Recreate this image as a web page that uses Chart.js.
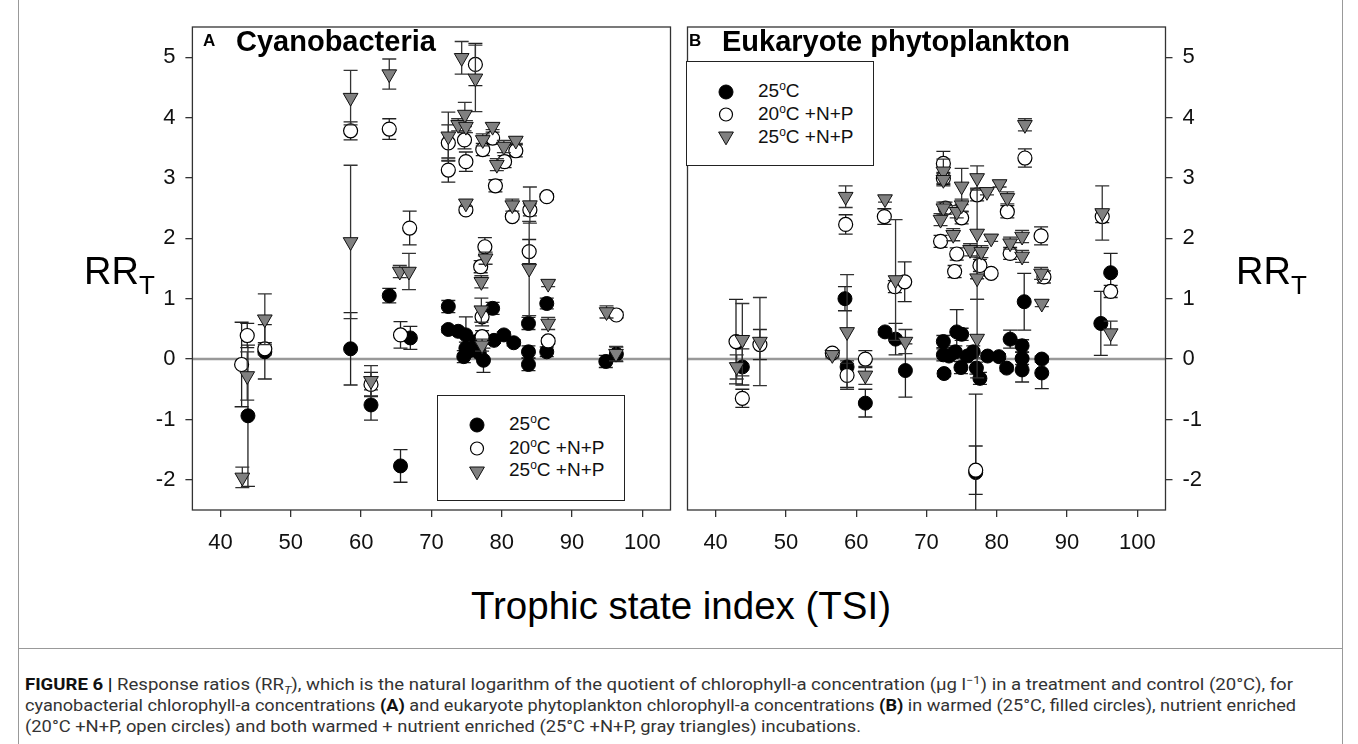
<!DOCTYPE html>
<html>
<head>
<meta charset="utf-8">
<script src="https://cdn.jsdelivr.net/npm/chart.js@4.4.1/dist/chart.umd.min.js"></script>
<style>
  body { margin: 0; width: 1358px; height: 744px; background: #fff; overflow: hidden; position: relative; font-family: 'Liberation Sans', Arial, sans-serif; }
  canvas { position: absolute; }
  .abs { position: absolute; white-space: nowrap; }
  .legend { position: absolute; background: #fff; border: 1.3px solid #222; box-sizing: border-box; }
  .legend .row { position: absolute; font-size: 19px; color: #111; line-height: 20px; }
  .legend .row sup { font-size: 12px; line-height: 0; vertical-align: 7px; }
  .legend svg { position: absolute; overflow: visible; }
  .cap { position: absolute; left: 25px; font-family: 'Liberation Sans Narrow', 'Roboto', 'Liberation Sans', sans-serif; font-size: 16px; line-height: 18px; color: #333; white-space: nowrap; transform-origin: 0 0; }
  .cap b { color: #111; }
  .cap sub, .cap sup { line-height: 0; font-size: 11px; }
</style>
</head>
<body>
<div class="abs" style="left:18px;top:0;width:1325px;height:744px;border-left:1px solid #999;border-right:1px solid #999;box-sizing:border-box;"></div>
<div class="abs" style="left:18px;top:648px;width:1325px;border-top:1px solid #999;"></div>

<canvas id="chartA" width="580" height="560" style="left:100px;top:17px;"></canvas>
<canvas id="chartB" width="580" height="560" style="left:678px;top:17px;"></canvas>

<div class="abs" style="left:203px;top:31px;font-size:17px;font-weight:bold;">A</div>
<div class="abs" style="left:236px;top:25px;font-size:29px;font-weight:bold;">Cyanobacteria</div>
<div class="abs" style="left:689px;top:31px;font-size:17px;font-weight:bold;">B</div>
<div class="abs" style="left:722px;top:25px;font-size:29px;font-weight:bold;">Eukaryote phytoplankton</div>

<div class="abs" style="left:84px;top:250px;font-size:38px;">RR<sub style="font-size:26px;vertical-align:-10px;">T</sub></div>
<div class="abs" style="left:1236px;top:250px;font-size:38px;">RR<sub style="font-size:26px;vertical-align:-10px;">T</sub></div>
<div class="abs" style="left:0;width:1362px;text-align:center;top:584px;font-size:38.5px;">Trophic state index (TSI)</div>

<div class="legend" style="left:437px;top:395px;width:188px;height:106px;">
  <svg style="left:0;top:0" width="1" height="1">
    <circle cx="39" cy="29" r="7" fill="#000" stroke="#000"/>
    <circle cx="39" cy="52.5" r="6.5" fill="#fff" stroke="#000" stroke-width="1.2"/>
    <polygon points="31.6,71 46.4,71 39,83.8" fill="#808080" stroke="#111"/>
  </svg>
  <div class="row" style="left:71px;top:18px;">25<sup>o</sup>C</div>
  <div class="row" style="left:71px;top:41.5px;">20<sup>o</sup>C +N+P</div>
  <div class="row" style="left:71px;top:64px;">25<sup>o</sup>C +N+P</div>
</div>
<div class="legend" style="left:686px;top:61px;width:188px;height:105px;">
  <svg style="left:0;top:0" width="1" height="1">
    <circle cx="39" cy="30" r="7" fill="#000" stroke="#000"/>
    <circle cx="39" cy="52.5" r="6.5" fill="#fff" stroke="#000" stroke-width="1.2"/>
    <polygon points="31.6,70 46.4,70 39,82.8" fill="#808080" stroke="#111"/>
  </svg>
  <div class="row" style="left:71px;top:19px;">25<sup>o</sup>C</div>
  <div class="row" style="left:71px;top:41.5px;">20<sup>o</sup>C +N+P</div>
  <div class="row" style="left:71px;top:64.5px;">25<sup>o</sup>C +N+P</div>
</div>

<div class="cap" data-w="1268" style="top:676px;"><b>FIGURE 6 |</b> Response ratios (RR<sub><i>T</i></sub>), which is the natural logarithm of the quotient of chlorophyll-a concentration (µg l<sup>−1</sup>) in a treatment and control (20°C), for</div>
<div class="cap" data-w="1271" style="top:697px;">cyanobacterial chlorophyll-a concentrations <b>(A)</b> and eukaryote phytoplankton chlorophyll-a concentrations <b>(B)</b> in warmed (25°C, filled circles), nutrient enriched</div>
<div class="cap" data-w="836" style="top:718px;">(20°C +N+P, open circles) and both warmed + nutrient enriched (25°C +N+P, gray triangles) incubations.</div>

<script>
// axis ticks
const xTicks = [40, 50, 60, 70, 80, 90, 100];
const yTicks = [-2, -1, 0, 1, 2, 3, 4, 5];

// Panel A - cyanobacteria
const cyanoWarmX = [43.9, 46.3, 58.5, 61.4, 64.0, 65.6, 67.0, 72.4, 72.4, 73.8, 74.9, 74.9, 74.6, 76.4, 77.4, 78.7, 78.9, 80.3, 81.7, 83.8, 83.8, 83.8, 86.4, 86.4, 94.8, 96.3, 75.5, 76.8];
const cyanoWarmY = [-0.94, 0.12, 0.17, -0.76, 1.05, -1.77, 0.35, 0.87, 0.49, 0.46, 0.40, 0.18, 0.04, 0.29, -0.02, 0.84, 0.31, 0.40, 0.27, 0.59, 0.12, -0.09, 0.92, 0.12, -0.04, 0.08, 0.14, 0.10];
const cyanoWarmErr = [1.17, 0.45, 0.6, 0.25, 0.12, 0.27, 0.19, 0.1, 0.05, 0.05, 0.3, 0.1, 0.1, 0.1, 0.2, 0.1, 0.05, 0.05, 0.05, 0.1, 0.1, 0.1, 0.09, 0.08, 0.1, 0.12, 0.05, 0.05];

const cyanoNutX = [43.0, 43.8, 46.3, 58.5, 61.4, 64.0, 65.6, 66.9, 72.4, 72.4, 74.7, 74.9, 74.9, 76.25, 77.3, 78.7, 80.4, 82.0, 79.1, 81.5, 84.0, 86.4, 77.6, 77.0, 83.9, 77.2, 77.2, 86.6, 96.3];
const cyanoNutY = [-0.09, 0.39, 0.17, 3.78, -0.42, 3.81, 0.40, 2.17, 3.58, 3.13, 3.63, 3.27, 2.47, 4.88, 3.47, 3.66, 3.27, 3.45, 2.87, 2.36, 2.47, 2.69, 1.86, 1.53, 1.78, 0.70, 0.37, 0.30, 0.73];
const cyanoNutErr = [0.7, 0.2, 0.1, 0.15, 0.2, 0.17, 0.22, 0.28, 0.3, 0.2, 0.15, 0.16, 0.05, 0.35, 0.1, 0.1, 0.1, 0.1, 0.1, 0.05, 0.1, 0.05, 0.15, 0.1, 0.2, 0.15, 0.1, 0.05, 0.05];

const cyanoBothX = [43.1, 43.8, 46.3, 58.5, 58.5, 61.4, 64.0, 65.5, 66.8, 72.4, 73.8, 74.3, 74.75, 74.9, 76.25, 77.3, 78.7, 80.3, 82.0, 79.3, 74.9, 81.5, 84.0, 77.7, 83.9, 77.1, 77.1, 77.2, 86.6, 86.6, 94.9, 96.25];
const cyanoBothY = [-1.96, -0.28, 0.66, 4.33, 1.94, -0.36, 4.72, 1.45, 1.45, 3.69, 3.88, 4.99, 4.05, 3.85, 4.65, 3.63, 3.85, 3.52, 3.62, 3.22, 2.58, 2.55, 2.55, 1.67, 1.50, 1.28, 0.81, 0.23, 1.25, 0.59, 0.78, 0.09];
const cyanoBothErr = [0.17, 0.4, 0.42, 0.45, 1.27, 0.25, 0.25, 0.1, 0.3, 0.4, 0.1, 0.27, 0.2, 0.1, 0.55, 0.1, 0.05, 0.1, 0.05, 0.1, 0.05, 0.1, 0.3, 0.1, 0.78, 0.1, 0.2, 0.1, 0.05, 0.1, 0.1, 0.12];

// Panel B - eukaryote phytoplankton
const eukWarmX = [43.1, 43.8, 58.4, 58.7, 61.3, 64.1, 65.6, 67.0, 72.4, 72.4, 72.5, 74.1, 74.3, 75.0, 74.9, 76.65, 77.1, 77.6, 78.7, 80.3, 81.4, 81.9, 83.6, 83.6, 83.6, 83.9, 86.4, 86.4, 94.8, 96.2, 77.0, 73.2, 75.8];
const eukWarmY = [0.28, -0.13, 1.0, -0.13, -0.73, 0.45, 0.33, -0.19, 0.29, 0.07, -0.24, 0.12, 0.45, 0.41, -0.14, 0.12, -0.15, -0.32, 0.05, 0.04, -0.15, 0.33, 0.22, 0.01, -0.18, 0.95, 0.0, -0.23, 0.59, 1.43, -1.88, 0.05, 0.05];
const eukWarmErr = [0.05, 0.3, 0.2, 0.1, 0.23, 0.05, 0.26, 0.44, 0.1, 0.1, 0.05, 0.1, 0.37, 0.1, 0.1, 0.1, 0.1, 0.1, 0.05, 0.05, 0.05, 0.15, 0.1, 0.1, 0.2, 0.47, 0.05, 0.26, 0.53, 0.32, 1.3, 0.05, 0.05];

const eukNutX = [42.9, 43.8, 46.3, 56.6, 58.5, 58.7, 61.3, 64.0, 65.5, 66.9, 72.4, 72.4, 72.0, 75.0, 74.3, 77.2, 81.5, 81.9, 84.0, 86.3, 95.0, 96.2, 74.0, 79.2, 77.6, 86.7, 77.0, 72.7];
const eukNutY = [0.29, -0.65, 0.24, 0.10, 2.23, -0.27, 0.0, 2.36, 1.20, 1.28, 3.24, 2.99, 1.95, 2.34, 1.74, 2.72, 2.44, 1.75, 3.33, 2.04, 2.36, 1.12, 1.45, 1.42, 1.55, 1.36, -1.84, 2.50];
const eukNutErr = [0.7, 0.15, 0.25, 0.05, 0.16, 0.2, 0.14, 0.13, 0.1, 0.33, 0.2, 0.1, 0.1, 0.1, 0.1, 0.1, 0.1, 0.1, 0.15, 0.15, 0.1, 0.1, 0.1, 0.05, 0.1, 0.1, 0.4, 0.1];

const eukBothX = [43.0, 43.8, 46.3, 56.6, 58.5, 58.7, 61.3, 64.1, 65.6, 67.0, 72.4, 72.4, 72.4, 72.0, 73.8, 74.3, 75.0, 75.0, 76.2, 77.2, 77.2, 77.8, 78.6, 79.2, 80.4, 81.5, 81.9, 83.6, 83.6, 84.0, 86.3, 86.4, 95.0, 96.2, 77.2, 77.2];
const eukBothY = [-0.13, 0.32, 0.29, 0.07, 2.69, 0.45, -0.27, 2.65, 1.31, 0.29, 3.11, 2.97, 2.50, 2.31, 2.06, 2.44, 2.86, 2.55, 1.81, 3.00, 2.08, 1.78, 2.77, 2.00, 2.90, 2.67, 1.92, 2.03, 1.70, 3.88, 1.42, 0.92, 2.42, 0.43, 1.34, 0.34];
const eukBothErr = [0.2, 0.6, 0.73, 0.05, 0.18, 0.95, 0.15, 0.05, 1.0, 0.2, 0.2, 0.1, 0.1, 0.1, 0.1, 0.1, 0.3, 0.1, 0.1, 0.2, 0.75, 0.1, 0.05, 0.05, 0.05, 0.1, 0.1, 0.1, 0.1, 0.1, 0.1, 0.05, 0.45, 0.2, 0.35, 0.65];

const pts = (xs, ys, es) => xs.map((x, i) => ({ x: x, y: ys[i], e: es[i] }));

// draws the vertical error bars under each dataset's markers
const errorBars = {
  id: 'errorBars',
  beforeDatasetDraw(chart, args) {
    const ds = chart.data.datasets[args.index];
    const { ctx, chartArea, scales } = chart;
    ctx.save();
    ctx.beginPath();
    ctx.rect(chartArea.left, chartArea.top, chartArea.width, chartArea.height);
    ctx.clip();
    ctx.strokeStyle = ds.errColor;
    ctx.lineWidth = 1.3;
    ds.data.forEach(p => {
      const px = scales.x.getPixelForValue(p.x);
      const top = scales.y.getPixelForValue(p.y + p.e);
      const bot = scales.y.getPixelForValue(p.y - p.e);
      ctx.beginPath();
      ctx.moveTo(px, top); ctx.lineTo(px, bot);
      ctx.moveTo(px - 7, top); ctx.lineTo(px + 7, top);
      ctx.moveTo(px - 7, bot); ctx.lineTo(px + 7, bot);
      ctx.stroke();
    });
    ctx.restore();
  }
};

// zero line and the panel frame
const frame = {
  id: 'frame',
  beforeDatasetsDraw(chart) {
    const { ctx, chartArea, scales } = chart;
    const y0 = scales.y.getPixelForValue(0);
    ctx.save();
    ctx.strokeStyle = '#999';
    ctx.lineWidth = 2.5;
    ctx.beginPath();
    ctx.moveTo(chartArea.left, y0);
    ctx.lineTo(chartArea.right, y0);
    ctx.stroke();
    ctx.restore();
  },
  afterDraw(chart) {
    const { ctx, chartArea } = chart;
    ctx.save();
    ctx.strokeStyle = '#333';
    ctx.lineWidth = 1.3;
    ctx.strokeRect(chartArea.left, chartArea.top, chartArea.width, chartArea.height);
    ctx.restore();
  }
};

function makeChart(id, warm, nut, both, side) {
  const tickFont = { family: "'Liberation Sans', Arial, sans-serif", size: 22 };
  return new Chart(document.getElementById(id), {
    type: 'scatter',
    data: {
      datasets: [
        {
          label: '25°C',
          data: warm,
          pointStyle: 'circle',
          pointRadius: 7,
          backgroundColor: '#000',
          borderColor: '#000',
          borderWidth: 1,
          errColor: '#222',
          order: 3,
        },
        {
          label: '20°C +N+P',
          data: nut,
          pointStyle: 'circle',
          pointRadius: 7,
          backgroundColor: '#fff',
          borderColor: '#000',
          borderWidth: 1.2,
          errColor: '#222',
          order: 2,
        },
        {
          label: '25°C +N+P',
          data: both,
          pointStyle: 'triangle',
          pointRadius: 8.5,
          rotation: 180,
          backgroundColor: '#808080',
          borderColor: '#111',
          borderWidth: 1,
          errColor: '#333',
          order: 1,
        },
      ],
    },
    options: {
      responsive: false,
      animation: false,
      devicePixelRatio: 1,
      layout: { padding: side === 'left' ? { left: 0, right: 1, top: 10, bottom: 0 } : { left: 1, right: 0, top: 10, bottom: 0 } },
      scales: {
        x: {
          type: 'linear',
          min: 36,
          max: 104,
          afterBuildTicks: a => { a.ticks = xTicks.map(v => ({ value: v })); },
          afterFit: s => { s.height = 67; s.paddingLeft = 0; s.paddingRight = 0; },
          grid: { drawOnChartArea: false, tickLength: 7, color: '#333', lineWidth: 1.3 },
          border: { display: false },
          ticks: { font: tickFont, color: '#111', padding: 13, maxRotation: 0 },
        },
        y: {
          type: 'linear',
          position: side,
          min: -2.5,
          max: 5.5,
          afterBuildTicks: a => { a.ticks = yTicks.map(v => ({ value: v })); },
          afterFit: s => { s.width = side === 'left' ? 92.4 : 92.5; s.paddingTop = 0; s.paddingBottom = 0; },
          grid: { drawOnChartArea: false, tickLength: 7, color: '#333', lineWidth: 1.3 },
          border: { display: false },
          ticks: { font: tickFont, color: '#111', padding: 10 },
        },
      },
      plugins: {
        legend: { display: false },
        tooltip: { enabled: false },
      },
    },
    plugins: [errorBars, frame],
  });
}

makeChart('chartA', pts(cyanoWarmX, cyanoWarmY, cyanoWarmErr), pts(cyanoNutX, cyanoNutY, cyanoNutErr), pts(cyanoBothX, cyanoBothY, cyanoBothErr), 'left');
makeChart('chartB', pts(eukWarmX, eukWarmY, eukWarmErr), pts(eukNutX, eukNutY, eukNutErr), pts(eukBothX, eukBothY, eukBothErr), 'right');

// fit caption lines to the widths they take in the figure
document.querySelectorAll('.cap').forEach(el => {
  const w = el.getBoundingClientRect().width;
  el.style.transform = 'scaleX(' + (parseFloat(el.dataset.w) / w) + ')';
});
</script>
</body>
</html>
